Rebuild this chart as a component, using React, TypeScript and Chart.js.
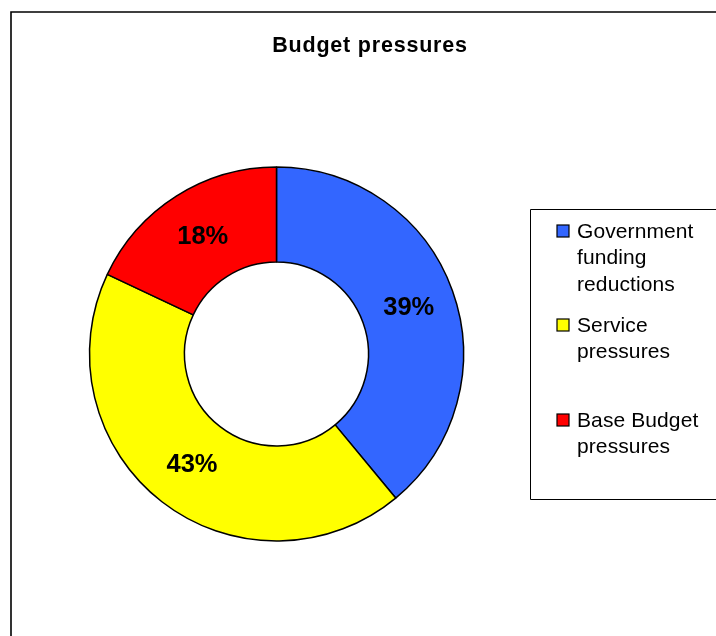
import React, { useEffect, useRef } from "react";
import { Chart, registerables } from "chart.js";

Chart.register(...registerables);

const TITLE = "Budget pressures";
const CATEGORIES: string[][] = [
  ["Government", "funding", "reductions"],
  ["Service", "pressures"],
  ["Base Budget", "pressures"],
];
const VALUES = [39, 43, 18];
const COLORS = ["#3366FF", "#FFFF00", "#FF0000"];

const FONT = "'Liberation Sans', Arial, sans-serif";

const overlayPlugin = {
  id: "overlay",
  afterDraw(chart: any) {
    const ctx: CanvasRenderingContext2D = chart.ctx;
    const W = chart.width;
    const H = chart.height;
    ctx.save();

    // outer frame
    ctx.strokeStyle = "#000";
    ctx.lineWidth = 1.6;
    ctx.beginPath();
    ctx.moveTo(11, H + 5);
    ctx.lineTo(11, 12);
    ctx.lineTo(W + 5, 12);
    ctx.stroke();

    // title
    ctx.fillStyle = "#000";
    ctx.font = `bold 21.5px ${FONT}`;
    (ctx as any).letterSpacing = "0.8px";
    ctx.textAlign = "center";
    ctx.textBaseline = "alphabetic";
    ctx.fillText(TITLE, 370, 52);

    // percentage labels
    const meta = chart.getDatasetMeta(0);
    const data = chart.data.datasets[0].data as number[];
    const total = data.reduce((a, b) => a + b, 0);
    ctx.font = `bold 25.5px ${FONT}`;
    (ctx as any).letterSpacing = "0px";
    ctx.textBaseline = "middle";
    meta.data.forEach((arc: any, i: number) => {
      const p = arc.tooltipPosition();
      const pct = Math.round((data[i] / total) * 100) + "%";
      ctx.fillText(pct, p.x + 1, p.y + 1);
    });

    // legend box
    const bx = 530.5, by = 209.5, bh = 290;
    ctx.strokeStyle = "#000";
    ctx.lineWidth = 1;
    ctx.beginPath();
    ctx.moveTo(W + 5, by);
    ctx.lineTo(bx, by);
    ctx.lineTo(bx, by + bh);
    ctx.lineTo(W + 5, by + bh);
    ctx.stroke();

    const itemTops = [225, 319, 414];
    const lineH = 26.7;
    ctx.font = `21px ${FONT}`;
    (ctx as any).letterSpacing = "0.1px";
    ctx.textAlign = "left";
    ctx.textBaseline = "alphabetic";
    const labels = chart.data.labels as string[][];
    labels.forEach((lines, i) => {
      const top = itemTops[i];
      ctx.fillStyle = COLORS[i];
      ctx.fillRect(557, top, 12, 12);
      ctx.strokeStyle = "#000";
      ctx.lineWidth = 1.2;
      ctx.strokeRect(557, top, 12, 12);
      ctx.fillStyle = "#000";
      lines.forEach((ln, j) => {
        ctx.fillText(ln, 577, top + 12.5 + j * lineH);
      });
    });

    ctx.restore();
  },
};

export default function App() {
  const ref = useRef<HTMLCanvasElement>(null);
  useEffect(() => {
    if (!ref.current) return;
    const chart = new Chart(ref.current, {
      type: "doughnut",
      data: {
        labels: CATEGORIES as any,
        datasets: [
          {
            data: VALUES,
            backgroundColor: COLORS,
            borderColor: "#000",
            borderWidth: 1.5,
          },
        ],
      },
      options: {
        responsive: false,
        animation: false,
        radius: 187,
        cutout: "49.2%",
        layout: { padding: { left: 0, right: 163, top: 72, bottom: 0 } },
        plugins: {
          legend: { display: false },
          title: { display: false },
          tooltip: { enabled: false },
        },
      } as any,
      plugins: [overlayPlugin],
    });
    return () => chart.destroy();
  }, []);
  return (
    <div style={{ position: "absolute", left: 0, top: 0, width: 716, height: 636, background: "#fff" }}>
      <canvas ref={ref} width={716} height={636} style={{ display: "block" }} />
    </div>
  );
}
